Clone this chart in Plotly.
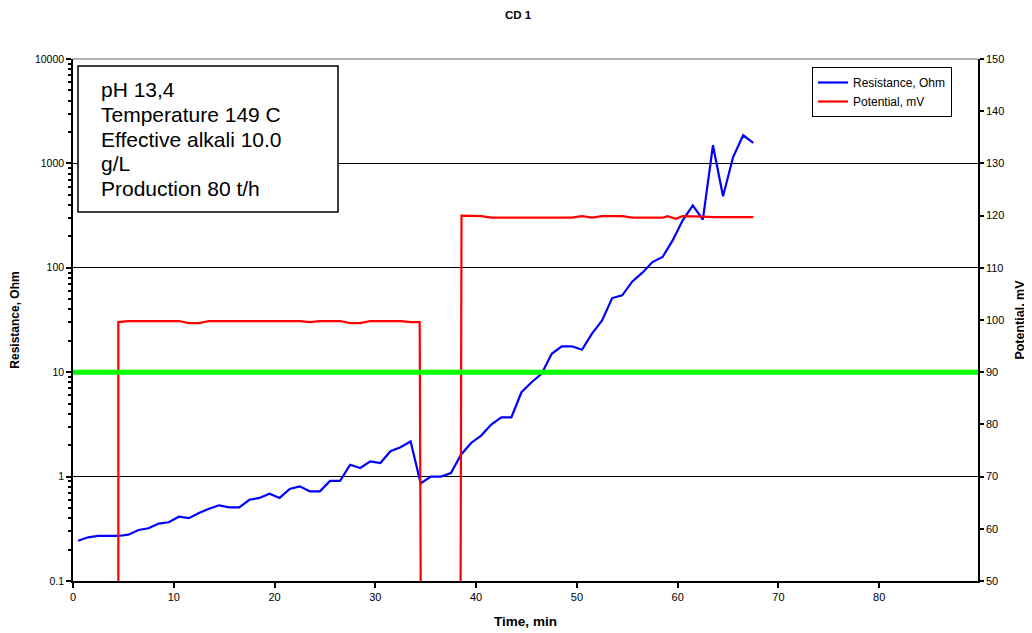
import plotly.graph_objects as go

# ---- data ----
res_time = [0.5, 1.5, 2.5, 3.5, 4.5, 5.5, 6.5, 7.5, 8.5, 9.5,
            10.5, 11.5, 12.5, 13.5, 14.5, 15.5, 16.5, 17.5, 18.5, 19.5,
            20.5, 21.5, 22.5, 23.5, 24.5, 25.5, 26.5, 27.5, 28.5, 29.5,
            30.5, 31.5, 32.5, 33.5, 34.5, 35.5, 36.5, 37.5, 38.5, 39.5,
            40.5, 41.5, 42.5, 43.5, 44.5, 45.5, 46.5, 47.5, 48.5, 49.5,
            50.5, 51.5, 52.5, 53.5, 54.5, 55.5, 56.5, 57.5, 58.5, 59.5,
            60.5, 61.5, 62.5, 63.5, 64.5, 65.5, 66.5, 67.5]
resistance = [0.243, 0.262, 0.27, 0.27, 0.27, 0.278, 0.308, 0.32, 0.355, 0.365,
              0.413, 0.40, 0.449, 0.493, 0.531, 0.508, 0.508, 0.60, 0.625, 0.687,
              0.625, 0.762, 0.807, 0.723, 0.723, 0.91, 0.91, 1.30, 1.21, 1.40,
              1.35, 1.75, 1.91, 2.17, 0.86, 1.0, 1.0, 1.08, 1.62, 2.1,
              2.47, 3.15, 3.70, 3.70, 6.43, 8.02, 9.66, 15.0, 17.7, 17.7,
              16.4, 23.4, 31.3, 51.3, 54.4, 74.1, 89.8, 113.5, 126.8, 183,
              285, 396, 289, 1492, 484, 1151, 1859, 1570]

pot_time = [4.5, 4.5, 5.5, 6.5, 7.5, 8.5, 9.5, 10.5, 11.5, 12.5, 13.5,
            14.5, 15.5, 16.5, 17.5, 18.5, 19.5, 20.5, 21.5, 22.5, 23.5,
            24.5, 25.5, 26.5, 27.5, 28.5, 29.5, 30.5, 31.5, 32.5, 33.5,
            34.4, 34.6, 38.4, 38.55, 39.5, 40.5, 41.5, 42.5, 43.5, 44.5,
            45.5, 46.5, 47.5, 48.5, 49.5, 50.5, 51.5, 52.5, 53.5, 54.5,
            55.5, 56.5, 57.5, 58.5, 59.0, 59.8, 60.5, 61.5, 62.5, 63.5,
            64.5, 65.5, 66.5, 67.5]
potential = [0, 99.6, 99.8, 99.8, 99.8, 99.8, 99.8, 99.8, 99.4, 99.4, 99.8,
             99.8, 99.8, 99.8, 99.8, 99.8, 99.8, 99.8, 99.8, 99.8, 99.6,
             99.8, 99.8, 99.8, 99.4, 99.4, 99.8, 99.8, 99.8, 99.8, 99.6,
             99.6, 0, 0, 120.0, 120.0, 119.9, 119.6, 119.6, 119.6, 119.6,
             119.6, 119.6, 119.6, 119.6, 119.6, 119.9, 119.6, 119.9, 119.9, 119.9,
             119.6, 119.6, 119.6, 119.6, 119.9, 119.4, 119.9, 119.9, 119.8, 119.7,
             119.7, 119.7, 119.7, 119.7]

threshold = 10
info_lines = ["pH 13,4", "Temperature 149 C", "Effective alkali 10.0", "g/L",
              "Production 80 t/h"]

FONT = "Arial, Liberation Sans, sans-serif"

# page offset of the plot (browser body margin 8px)
OFF = 8
W, H = 1032 - OFF, 633 - OFF
PL, PR, PT, PB = 73, 978, 59, 581   # plot area in page pixels
PW, PH = PR - PL, PB - PT


def px(xp):
    return (xp - PL) / PW


def py(yp):
    return (PB - yp) / PH


fig = go.Figure()
fig.add_trace(go.Scatter(x=res_time, y=resistance, mode="lines",
                         name="Resistance, Ohm",
                         line=dict(color="#0000ff", width=2.2)))
fig.add_trace(go.Scatter(x=pot_time, y=potential, mode="lines",
                         name="Potential, mV", yaxis="y2",
                         line=dict(color="#ff0000", width=2.2)))

# green threshold line and grey top border
fig.add_shape(type="line", xref="paper", x0=0, x1=1, yref="y", y0=threshold, y1=threshold,
              line=dict(color="#00ff00", width=5))
fig.add_shape(type="line", xref="paper", x0=0, x1=1, yref="paper", y0=1, y1=1,
              line=dict(color="#999999", width=1.5))

# info box
fig.add_shape(type="rect", xref="paper", yref="paper",
              x0=px(78), x1=px(338), y0=py(212), y1=py(66),
              line=dict(color="black", width=1.5), fillcolor="white", layer="above")
for i, t in enumerate(info_lines):
    fig.add_annotation(text=t, xref="paper", yref="paper",
                       x=px(99), xanchor="left",
                       y=py(90 + i * 24.5), yanchor="middle",
                       showarrow=False, font=dict(family=FONT, size=21, color="black"))

common_tick = dict(tickcolor="black", tickwidth=1.5)

fig.update_layout(
    width=W, height=H,
    margin=dict(l=PL - OFF, r=OFF + W - PR, t=PT - OFF, b=OFF + H - PB, autoexpand=False),
    paper_bgcolor="white", plot_bgcolor="white",
    font=dict(family=FONT, color="black"),
    title=dict(text="<b>CD 1</b>", x=(518 - OFF) / W, xref="container",
               y=1 - (15 - OFF) / H, yanchor="middle",
               xanchor="center", font=dict(size=11.5, color="black")),
    showlegend=True,
    legend=dict(x=px(812), y=py(67), xanchor="left", yanchor="top",
                bordercolor="black", borderwidth=1, bgcolor="white",
                font=dict(size=12, color="black"), itemwidth=30, tracegroupgap=0),
    xaxis=dict(range=[0, 89.8], dtick=10, tick0=0, showgrid=False, zeroline=False,
               showline=True, linecolor="black", linewidth=1.5, automargin=False,
               ticks="outside", ticklen=5, **common_tick,
               tickfont=dict(size=11),
               title=dict(text="<b>Time, min</b>", font=dict(size=13.5), standoff=15)),
    xaxis2=dict(range=[0, 89.8], dtick=10, tick0=0, overlaying="x", anchor="y",
                showgrid=False, zeroline=False, showline=False, showticklabels=False,
                automargin=False, ticks="inside", ticklen=5, **common_tick),
    yaxis=dict(type="log", range=[-1, 4], dtick=1, tickformat=".1~f",
               showgrid=True, gridcolor="black", gridwidth=1, zeroline=False,
               showline=True, linecolor="black", linewidth=1.5, automargin=False,
               ticks="outside", ticklen=5, **common_tick,
               minor=dict(ticks="outside", ticklen=3, tickcolor="black", showgrid=False),
               tickfont=dict(size=10.5),
               title=dict(text="<b>Resistance, Ohm</b>", font=dict(size=12), standoff=13)),
    yaxis3=dict(type="log", range=[-1, 4], dtick=1, overlaying="y", anchor="x",
                showgrid=False, zeroline=False, showline=False, showticklabels=False,
                automargin=False, ticks="inside", ticklen=5, **common_tick,
                minor=dict(ticks="inside", ticklen=3, tickcolor="black", showgrid=False)),
    yaxis2=dict(range=[50, 150], dtick=10, overlaying="y", side="right", anchor="x",
                showgrid=False, zeroline=False, automargin=False,
                showline=True, linecolor="black", linewidth=1.5,
                ticks="outside", ticklen=4, **common_tick,
                tickfont=dict(size=11),
                title=dict(text="<b>Potential, mV</b>", font=dict(size=12.5), standoff=12)),
    yaxis4=dict(range=[50, 150], dtick=10, overlaying="y", side="right", anchor="x",
                showgrid=False, zeroline=False, showline=False, showticklabels=False,
                automargin=False, ticks="inside", ticklen=4, **common_tick),
)

fig.write_html("out.html")
